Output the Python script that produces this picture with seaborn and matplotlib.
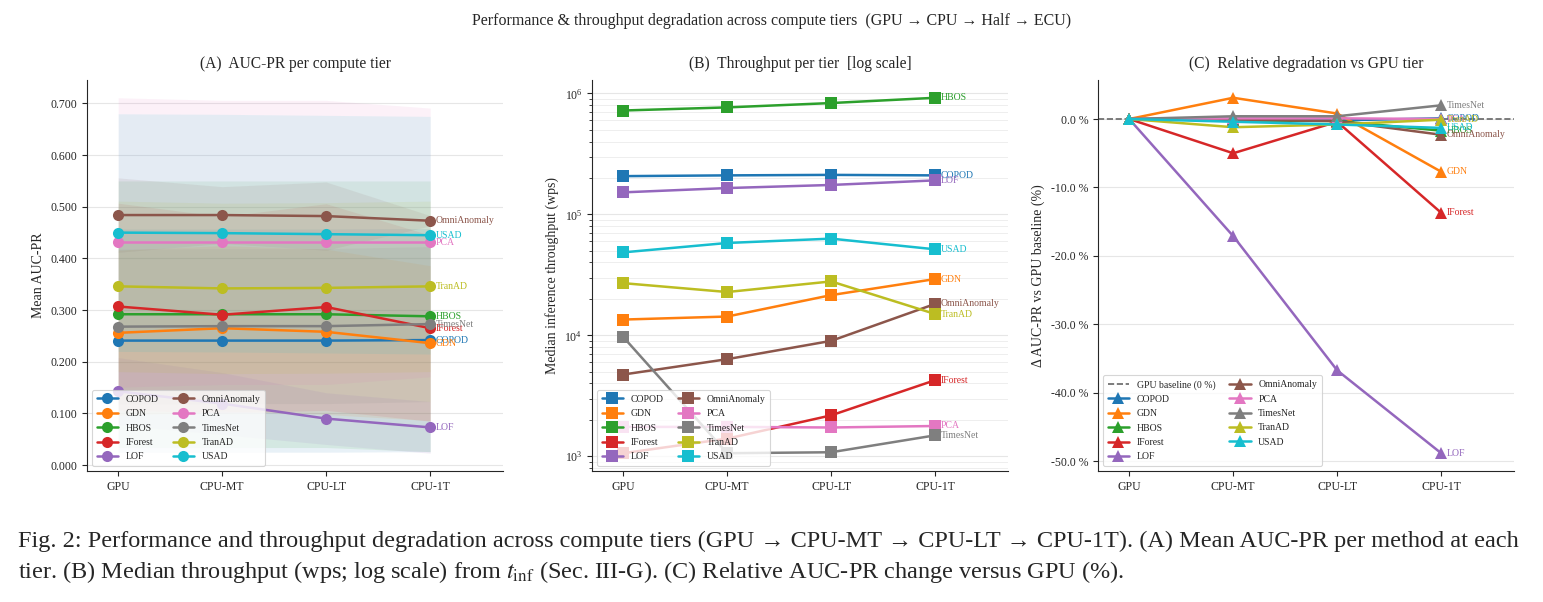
import matplotlib
matplotlib.use("Agg")
import matplotlib.pyplot as plt
import matplotlib.ticker as mticker
import numpy as np
import pandas as pd
import seaborn as sns

# ---- data ----
tiers = ["GPU", "CPU-MT", "CPU-LT", "CPU-1T"]
methods = ["COPOD", "GDN", "HBOS", "IForest", "LOF",
           "OmniAnomaly", "PCA", "TimesNet", "TranAD", "USAD"]

# (A) mean AUC-PR per tier
auc_mean = {
    "COPOD":       [0.241, 0.241, 0.241, 0.242],
    "GDN":         [0.256, 0.265, 0.258, 0.236],
    "HBOS":        [0.292, 0.292, 0.292, 0.288],
    "IForest":     [0.307, 0.291, 0.306, 0.265],
    "LOF":         [0.143, 0.119, 0.090, 0.073],
    "OmniAnomaly": [0.484, 0.484, 0.482, 0.473],
    "PCA":         [0.431, 0.431, 0.431, 0.431],
    "TimesNet":    [0.268, 0.269, 0.269, 0.273],
    "TranAD":      [0.346, 0.342, 0.343, 0.346],
    "USAD":        [0.450, 0.449, 0.447, 0.445],
}
# spread (shaded band, +/- std)
auc_std = {
    "COPOD":       [0.216, 0.216, 0.216, 0.216],
    "GDN":         [0.160, 0.160, 0.160, 0.150],
    "HBOS":        [0.258, 0.258, 0.258, 0.262],
    "IForest":     [0.200, 0.190, 0.200, 0.180],
    "LOF":         [0.065, 0.060, 0.050, 0.050],
    "OmniAnomaly": [0.072, 0.055, 0.066, 0.010],
    "PCA":         [0.280, 0.275, 0.275, 0.260],
    "TimesNet":    [0.150, 0.150, 0.150, 0.150],
    "TranAD":      [0.165, 0.165, 0.165, 0.165],
    "USAD":        [0.230, 0.230, 0.230, 0.230],
}

# (B) median inference throughput (wps)
wps = {
    "COPOD":       [2.07e5, 2.10e5, 2.12e5, 2.10e5],
    "GDN":         [1.35e4, 1.43e4, 2.15e4, 2.92e4],
    "HBOS":        [7.22e5, 7.66e5, 8.32e5, 9.20e5],
    "IForest":     [1.06e3, 1.40e3, 2.18e3, 4.26e3],
    "LOF":         [1.52e5, 1.65e5, 1.75e5, 1.91e5],
    "OmniAnomaly": [4.74e3, 6.35e3, 9.00e3, 1.82e4],
    "PCA":         [1.75e3, 1.75e3, 1.73e3, 1.78e3],
    "TimesNet":    [9.70e3, 1.06e3, 1.08e3, 1.49e3],
    "TranAD":      [2.70e4, 2.28e4, 2.79e4, 1.50e4],
    "USAD":        [4.85e4, 5.80e4, 6.30e4, 5.14e4],
}

# (C) relative AUC-PR change vs GPU (%)
rel = {
    "COPOD":       [0.0, 0.0, -0.2, 0.1],
    "GDN":         [0.0, 3.1, 0.8, -7.7],
    "HBOS":        [0.0, -0.2, -0.3, -1.7],
    "IForest":     [0.0, -5.0, -0.4, -13.7],
    "LOF":         [0.0, -17.1, -36.7, -48.8],
    "OmniAnomaly": [0.0, -0.1, -0.3, -2.3],
    "PCA":         [0.0, 0.1, 0.1, 0.0],
    "TimesNet":    [0.0, 0.4, 0.4, 2.0],
    "TranAD":      [0.0, -1.2, -0.8, -0.1],
    "USAD":        [0.0, -0.4, -0.8, -1.3],
}


def long_df(d):
    rows = []
    for m in methods:
        for i, v in enumerate(d[m]):
            rows.append({"method": m, "tier": i, "value": v})
    return pd.DataFrame(rows)


sns.set_style("ticks")
plt.rcParams["font.family"] = ["Liberation Serif", "DejaVu Serif"]
plt.rcParams["mathtext.fontset"] = "stix"

palette = dict(zip(methods, sns.color_palette("tab10", 10)))

fig = plt.figure(figsize=(15.43, 6.02), dpi=100)
W, H = 1543, 602


def add_ax(left_px, right_px, top_px, bottom_px):
    return fig.add_axes([left_px / W, 1 - bottom_px / H,
                         (right_px - left_px) / W, (bottom_px - top_px) / H])


axA = add_ax(87, 503, 80, 471)
axB = add_ax(592, 1008, 80, 471)
axC = add_ax(1098, 1514, 80, 471)

lw = 1.8
tick_fs = 8.5
lab_fs = 7


def style_axis(ax, title, ylabel):
    ax.set_title(title, fontsize=11.2, pad=9)
    ax.set_ylabel(ylabel, fontsize=10)
    ax.set_xlabel("")
    ax.set_xticks(range(len(tiers)))
    ax.set_xticklabels(tiers)
    ax.set_xlim(-0.3, 3.7)
    ax.tick_params(labelsize=tick_fs)
    ax.yaxis.grid(True, color="#e6e6e6", lw=0.8)
    ax.set_axisbelow(True)
    sns.despine(ax=ax)


def end_labels(ax, d):
    for m in methods:
        ax.annotate(m, (3, d[m][-1]), xytext=(4, 0), textcoords="offset points",
                    va="center", ha="left", fontsize=lab_fs, color=palette[m])


def legend(ax):
    handles, labels = ax.get_legend_handles_labels()
    leg = ax.legend(handles, labels, ncol=2, loc="lower left", fontsize=7,
                    frameon=True, framealpha=0.8, edgecolor="#cccccc",
                    handlelength=2.2, handletextpad=0.8, columnspacing=1.4,
                    borderpad=0.5, labelspacing=0.55)
    leg.get_frame().set_linewidth(0.8)


# ---- (A) ----
x = np.arange(len(tiers))
for m in methods:
    mu = np.array(auc_mean[m])
    sd = np.array(auc_std[m])
    axA.fill_between(x, mu - sd, mu + sd, color=palette[m], alpha=0.1, lw=0)
sns.lineplot(data=long_df(auc_mean), x="tier", y="value", hue="method",
             palette=palette, marker="o", markersize=8, markeredgewidth=0,
             linewidth=lw, ax=axA)
style_axis(axA, "(A)  AUC-PR per compute tier", "Mean AUC-PR")
axA.yaxis.set_major_locator(mticker.MultipleLocator(0.1))
axA.yaxis.set_major_formatter(mticker.FormatStrFormatter("%.3f"))
end_labels(axA, auc_mean)
legend(axA)

# ---- (B) ----
sns.lineplot(data=long_df(wps), x="tier", y="value", hue="method",
             palette=palette, marker="s", markersize=8, markeredgewidth=0,
             linewidth=lw, ax=axB)
axB.set_yscale("log")
style_axis(axB, "(B)  Throughput per tier  [log scale]",
           "Median inference throughput (wps)")
axB.yaxis.grid(True, which="minor", color="#eeeeee", lw=0.7)
end_labels(axB, wps)
legend(axB)

# ---- (C) ----
axC.axhline(0, color="#666666", ls="--", lw=1.2, label="GPU baseline (0 %)")
sns.lineplot(data=long_df(rel), x="tier", y="value", hue="method",
             palette=palette, marker="^", markersize=9, markeredgewidth=0,
             linewidth=lw, ax=axC)
style_axis(axC, "(C)  Relative degradation vs GPU tier",
           "Δ AUC-PR vs GPU baseline (%)")
axC.yaxis.set_major_locator(mticker.MultipleLocator(10))
axC.yaxis.set_major_formatter(mticker.FuncFormatter(lambda v, p: f"{v:.1f} %"))
end_labels(axC, rel)
legend(axC)

fig.suptitle("Performance & throughput degradation across compute tiers  "
             "(GPU → CPU → Half → ECU)", fontsize=11.5, y=1 - 21 / H, va="center")

# ---- caption ----
cap1 = ("Fig. 2: Performance and throughput degradation across compute tiers "
        "(GPU → CPU-MT → CPU-LT → CPU-1T). (A) Mean AUC-PR per method at each")
cap2 = ("tier. (B) Median throughput (wps; log scale) from $t_{\\mathrm{inf}}$ "
        "(Sec. III-G). (C) Relative AUC-PR change versus GPU (%).")
t1 = fig.text(18 / W, 1 - 541 / H, cap1, fontsize=15, va="center", ha="left")
fig.canvas.draw()
w1 = t1.get_window_extent().width
fs = 15 * (1509 / w1)
t1.set_fontsize(fs)
fig.text(18 / W, 1 - 572 / H, cap2, fontsize=fs, va="center", ha="left")

fig.savefig("out.png", dpi=100)
